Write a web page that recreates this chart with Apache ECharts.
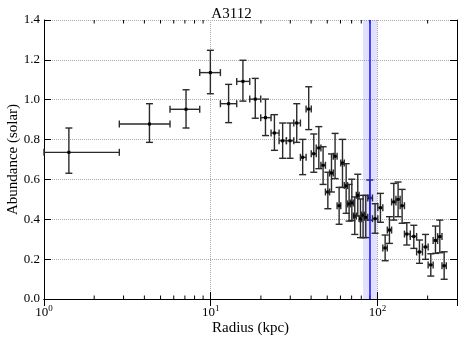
<!DOCTYPE html>
<html lang="en">
<head>
    <meta charset="UTF-8">
    <title>A3112</title>
    <script type="text/javascript" src="https://cdn.jsdelivr.net/npm/echarts@6/dist/echarts.min.js"></script>
    <style>
        body { margin: 0; background: #fff; }
    </style>
</head>
<body>
<div id="main" style="width: 463px;height:342px;"></div>
<script type="text/javascript">
    // radius bin centres (kpc)
    var radius = [1.41, 4.29, 7.11, 9.95, 12.8, 15.6, 18.5, 21.3, 24.1, 27.0, 29.9, 32.8, 35.6, 38.7, 41.5,
        44.5, 47.2, 50.4, 53.0, 55.7, 58.9, 61.7, 64.9, 67.6, 70.2, 73.1, 76.2, 79.1, 82.0, 85.1, 90.0,
        96.8, 104.2, 111.2, 118.0, 125.3, 133.0, 140.6, 150.0, 165.2, 178.6, 194.1, 208.9, 222.8, 236.6, 251.2];
    // bin edges (kpc), one more than the centres
    var binEdges = [1.0, 2.83, 5.70, 8.59, 11.43, 14.32, 17.14, 19.95, 23.01, 25.70, 28.44, 31.48, 34.51, 37.33,
        40.09, 42.95, 45.81, 48.75, 51.64, 54.33, 57.28, 60.26, 63.24, 66.22, 68.87, 71.61, 74.64, 77.62,
        80.54, 83.56, 87.50, 93.33, 100.5, 107.7, 114.6, 121.6, 129.1, 136.8, 145.2, 157.4, 171.8, 186.2,
        201.4, 215.8, 229.6, 243.8, 258.8];
    // abundance (solar) and its error range
    var abund = [0.736, 0.878, 0.952, 1.136, 0.980, 1.092, 1.003, 0.910, 0.833, 0.794, 0.794, 0.883, 0.711,
        0.953, 0.729, 0.758, 0.671, 0.537, 0.632, 0.716, 0.468, 0.682, 0.569, 0.477, 0.482, 0.416, 0.520,
        0.403, 0.421, 0.410, 0.507, 0.403, 0.458, 0.256, 0.346, 0.487, 0.500, 0.468, 0.326, 0.314, 0.236,
        0.261, 0.171, 0.294, 0.313, 0.167];
    var abundHi = [0.858, 0.980, 1.050, 1.248, 1.077, 1.198, 1.107, 1.003, 0.925, 0.883, 0.883, 0.980, 0.801,
        1.065, 0.828, 0.865, 0.764, 0.636, 0.728, 0.831, 0.560, 0.801, 0.679, 0.575, 0.601, 0.512, 0.626,
        0.502, 0.520, 0.520, 0.597, 0.478, 0.530, 0.321, 0.413, 0.580, 0.587, 0.550, 0.383, 0.370, 0.296,
        0.324, 0.227, 0.366, 0.396, 0.237];
    var abundLo = [0.631, 0.786, 0.858, 1.030, 0.885, 0.993, 0.907, 0.820, 0.746, 0.706, 0.706, 0.786, 0.624,
        0.850, 0.636, 0.654, 0.575, 0.453, 0.537, 0.604, 0.375, 0.560, 0.430, 0.391, 0.393, 0.324, 0.416,
        0.308, 0.308, 0.308, 0.396, 0.330, 0.385, 0.192, 0.279, 0.396, 0.413, 0.380, 0.271, 0.254, 0.179,
        0.199, 0.115, 0.229, 0.232, 0.099];
    // vertical marker and its shaded range (kpc)
    var markerRadius = 90;
    var markerRange = [82, 99.5];
    // minor ticks on the log axis
    var minorTicks = [2, 3, 4, 5, 6, 7, 8, 9, 20, 30, 40, 50, 60, 70, 80, 90, 200];

    var font = 'Liberation Serif';

    var pts = radius.map(function (r, i) {
        return [r, abund[i], binEdges[i], binEdges[i + 1], abundLo[i], abundHi[i]];
    });

    function renderErr(params, api) {
        var c = api.coord([api.value(0), api.value(1)]);
        var l = api.coord([api.value(2), api.value(1)]);
        var r = api.coord([api.value(3), api.value(1)]);
        var b = api.coord([api.value(0), api.value(4)]);
        var t = api.coord([api.value(0), api.value(5)]);
        var cap = 3.5;
        var st = {stroke: '#2a2a2a', lineWidth: 1.4};
        function ln(x1, y1, x2, y2) {
            return {type: 'line', shape: {x1: x1, y1: y1, x2: x2, y2: y2}, style: st};
        }
        return {
            type: 'group',
            children: [
                ln(l[0], c[1], r[0], c[1]),
                ln(l[0], c[1] - cap, l[0], c[1] + cap),
                ln(r[0], c[1] - cap, r[0], c[1] + cap),
                ln(c[0], t[1], c[0], b[1]),
                ln(c[0] - cap, t[1], c[0] + cap, t[1]),
                ln(c[0] - cap, b[1], c[0] + cap, b[1]),
                {type: 'rect', shape: {x: c[0] - 1.5, y: c[1] - 1.5, width: 3, height: 3}, style: {fill: '#000'}}
            ]
        };
    }

    function renderMinor(params, api) {
        var p = api.coord([api.value(0), 0]);
        var top = params.coordSys.y;
        var st = {stroke: '#000', lineWidth: 1};
        return {
            type: 'group',
            children: [
                {type: 'line', shape: {x1: p[0], y1: p[1], x2: p[0], y2: p[1] - 3.5}, style: st},
                {type: 'line', shape: {x1: p[0], y1: top, x2: p[0], y2: top + 3.5}, style: st}
            ]
        };
    }

    var xLabel = {
        fontFamily: font, fontSize: 13, color: '#000', margin: 5,
        showMaxLabel: false,
        formatter: function (v) {
            var e = Math.round(Math.log10(v));
            if (Math.abs(Math.pow(10, e) - v) > 1e-6 * v) return '';
            return '10{sup|' + e + '}';
        },
        rich: {sup: {fontFamily: font, fontSize: 9, padding: [0, 0, 8, 0]}}
    };

    var option = {
        animation: false,
        title: {
            text: 'A3112', left: 'center', top: 2,
            textStyle: {fontFamily: font, fontSize: 15, fontWeight: 'normal', color: '#000'}
        },
        grid: {left: 44, right: 6, top: 20, bottom: 43, containLabel: false, outerBoundsMode: 'none'},
        xAxis: [{
            type: 'log', logBase: 10, min: 1, max: 300, interval: 1,
            name: 'Radius (kpc)', nameLocation: 'middle', nameGap: 22, nameMoveOverlap: false,
            nameTextStyle: {fontFamily: font, fontSize: 15, color: '#000'},
            axisLine: {lineStyle: {color: '#000', width: 1}},
            axisTick: {inside: true, length: 7, lineStyle: {color: '#000'}},
            axisLabel: xLabel,
            splitLine: {show: true, lineStyle: {color: '#aaa', type: 'dotted'}}
        }, {
            type: 'log', logBase: 10, min: 1, max: 300, interval: 1, position: 'top',
            axisLine: {lineStyle: {color: '#000', width: 1}},
            axisTick: {inside: true, length: 7, lineStyle: {color: '#000'}},
            axisLabel: {show: false},
            splitLine: {show: false}
        }],
        yAxis: [{
            type: 'value', min: 0, max: 1.4, interval: 0.2,
            name: 'Abundance (solar)', nameLocation: 'middle', nameGap: 23, nameRotate: 90,
            nameMoveOverlap: false,
            nameTextStyle: {fontFamily: font, fontSize: 15, color: '#000'},
            axisLine: {show: true, lineStyle: {color: '#000', width: 1}},
            axisTick: {show: true, inside: true, length: 7, lineStyle: {color: '#000'}},
            axisLabel: {
                fontFamily: font, fontSize: 13, color: '#000', margin: 4,
                formatter: function (v) { return v.toFixed(1); }
            },
            splitLine: {show: true, lineStyle: {color: '#aaa', type: 'dotted'}}
        }, {
            type: 'value', min: 0, max: 1.4, interval: 0.2, position: 'right',
            axisLine: {show: true, lineStyle: {color: '#000', width: 1}},
            axisTick: {show: true, inside: true, length: 7, lineStyle: {color: '#000'}},
            axisLabel: {show: false},
            splitLine: {show: false}
        }],
        series: [
            {
                type: 'line', data: [], silent: true, z: 1,
                markArea: {
                    silent: true,
                    itemStyle: {color: 'rgba(90,90,255,0.18)'},
                    data: [[{xAxis: markerRange[0]}, {xAxis: markerRange[1]}]]
                }
            },
            {
                type: 'custom', renderItem: renderErr, data: pts, z: 3,
                encode: {x: 0, y: 1}
            },
            {
                type: 'custom', renderItem: renderMinor, data: minorTicks.map(function (v) { return [v, 0]; }),
                z: 4, clip: false, silent: true, encode: {x: 0, y: 1}
            },
            {
                type: 'line', data: [], silent: true, z: 5,
                markLine: {
                    silent: true, symbol: 'none', label: {show: false},
                    lineStyle: {color: '#1f1fff', width: 1.6, type: 'solid'},
                    data: [{xAxis: markerRadius}]
                }
            }
        ]
    };

    var myChart = echarts.init(document.getElementById('main'));
    myChart.setOption(option);
</script>
</body>
</html>
